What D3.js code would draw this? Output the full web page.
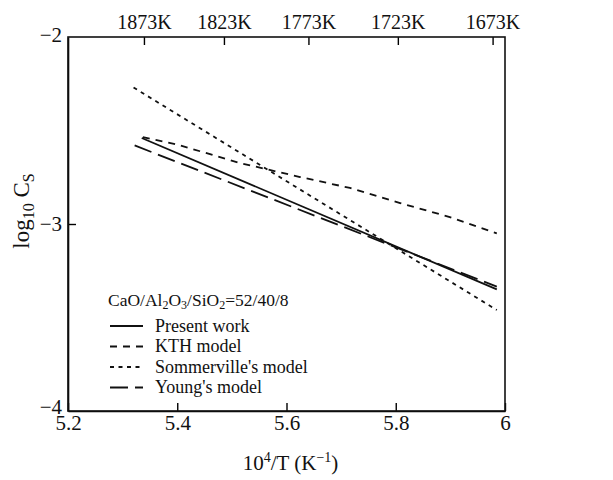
<!DOCTYPE html>
<html>
<head>
<meta charset="utf-8">
<script src="https://cdn.jsdelivr.net/npm/d3@7"></script>
<style>
  html, body { margin: 0; padding: 0; background: #fff; }
  svg text { font-family: "Liberation Serif", "Times New Roman", serif; fill: #111; }
</style>
</head>
<body>
<svg id="chart" width="613" height="480"></svg>
<script>
// ---- data ----
const xDomain = [5.2, 6];
const yDomain = [-4, -2];
const xTickValues = [5.2, 5.4, 5.6, 5.8, 6];
const yTickValues = [-2, -3, -4];
const topTempsK = [1873, 1823, 1773, 1723, 1673];

const presentX = [5.335, 5.985];
const presentY = [-2.54, -3.35];

const kthX = [5.337, 5.4, 5.515, 5.625, 5.716, 5.808, 5.899, 5.985];
const kthY = [-2.535, -2.575, -2.674, -2.749, -2.807, -2.888, -2.963, -3.05];

const sommervilleX = [5.32, 5.985];
const sommervilleY = [-2.27, -3.46];

const youngX = [5.322, 5.985];
const youngY = [-2.58, -3.335];

const seriesNames = ["Present work", "KTH model", "Sommerville's model", "Young's model"];

// ---- layout ----
const svg = d3.select("#chart");
const mLeft = 68, mRight = 505, mTop = 37, mBottom = 411;

const x = d3.scaleLinear().domain(xDomain).range([mLeft, mRight]);
const y = d3.scaleLinear().domain(yDomain).range([mBottom, mTop]);

const fmtMinus = v => (v < 0 ? "\u2212" : "") + Math.abs(v);

// bottom axis
const gx = svg.append("g").attr("transform", `translate(0,${mBottom})`)
  .call(d3.axisBottom(x).tickValues(xTickValues).tickSizeInner(-8).tickSizeOuter(0).tickPadding(3)
    .tickFormat(d => d3.format("")(d)));
gx.selectAll("text").attr("font-size", 21).attr("dy", "0.75em");

// left axis
const gy = svg.append("g").attr("transform", `translate(${mLeft},0)`)
  .call(d3.axisLeft(y).tickValues(yTickValues).tickSizeInner(-8).tickSizeOuter(0).tickPadding(6)
    .tickFormat(fmtMinus));
gy.selectAll("text").attr("font-size", 21);
gy.selectAll(".tick").filter(d => d === -4).select("text").attr("dy", "0.1em");
gy.selectAll(".tick").filter(d => d === -2).select("text").attr("dy", "0.2em");
gy.selectAll(".tick").filter(d => d !== -3).select("line").remove();

// top axis (temperature)
const gt = svg.append("g").attr("transform", `translate(0,${mTop})`)
  .call(d3.axisTop(x).tickValues(topTempsK.map(t => 1e4 / t)).tickSizeInner(-8).tickSizeOuter(0).tickPadding(8)
    .tickFormat((d, i) => topTempsK[i] + "K"));
gt.selectAll("text").attr("font-size", 20);
gt.select(".domain").remove();

// frame
svg.append("rect").attr("x", mLeft).attr("y", mTop).attr("width", mRight - mLeft).attr("height", mBottom - mTop)
  .attr("fill", "none").attr("stroke", "#111").attr("stroke-width", 1.6);
svg.selectAll(".domain").attr("stroke-width", 1.6);
svg.selectAll(".tick line").attr("stroke-width", 1.4);

// series
const line = d3.line().x(d => x(d[0])).y(d => y(d[1]));
const styles = [
  { dash: null, w: 1.8 },
  { dash: "7,6", w: 1.8 },
  { dash: "4,4.5", w: 1.8 },
  { dash: "18,7", w: 1.8 }
];
const seriesData = [
  d3.zip(presentX, presentY),
  d3.zip(kthX, kthY),
  d3.zip(sommervilleX, sommervilleY),
  d3.zip(youngX, youngY)
];
seriesData.forEach((pts, i) => {
  svg.append("path").datum(pts).attr("d", line)
    .attr("fill", "none").attr("stroke", "#111").attr("stroke-width", styles[i].w)
    .attr("stroke-dasharray", styles[i].dash);
});

// legend
const lg = svg.append("g").attr("transform", "translate(108,0)");
const title = lg.append("text").attr("x", 0).attr("y", 306).attr("font-size", 17.5);
title.append("tspan").text("CaO/Al");
title.append("tspan").attr("font-size", 12).attr("dy", 3).text("2");
title.append("tspan").attr("dy", -3).text("O");
title.append("tspan").attr("font-size", 12).attr("dy", 3).text("3");
title.append("tspan").attr("dy", -3).text("/SiO");
title.append("tspan").attr("font-size", 12).attr("dy", 3).text("2");
title.append("tspan").attr("dy", -3).text("=52/40/8");

seriesNames.forEach((name, i) => {
  const yy = 326 + i * 20.5;
  lg.append("line").attr("x1", 2).attr("x2", 35).attr("y1", yy).attr("y2", yy)
    .attr("stroke", "#111").attr("stroke-width", styles[i].w).attr("stroke-dasharray", styles[i].dash);
  lg.append("text").attr("x", 47).attr("y", yy).attr("dy", "0.33em").attr("font-size", 18).text(name);
});

// x axis title
const xt = svg.append("text").attr("x", (mLeft + mRight) / 2 + 4).attr("y", 470).attr("text-anchor", "middle").attr("font-size", 21);
xt.append("tspan").text("10");
xt.append("tspan").attr("font-size", 14).attr("dy", -8).text("4");
xt.append("tspan").attr("dy", 8).text("/T (K");
xt.append("tspan").attr("font-size", 14).attr("dy", -8).text("\u22121");
xt.append("tspan").attr("dy", 8).text(")");

// y axis title
const yt = svg.append("text").attr("transform", "translate(29,211) rotate(-90)").attr("text-anchor", "middle").attr("font-size", 23);
yt.append("tspan").text("log");
yt.append("tspan").attr("font-size", 16).attr("dy", 5).text("10");
yt.append("tspan").attr("dy", -5).text(" C");
yt.append("tspan").attr("font-size", 16).attr("dy", 5).text("S");
</script>
</body>
</html>
